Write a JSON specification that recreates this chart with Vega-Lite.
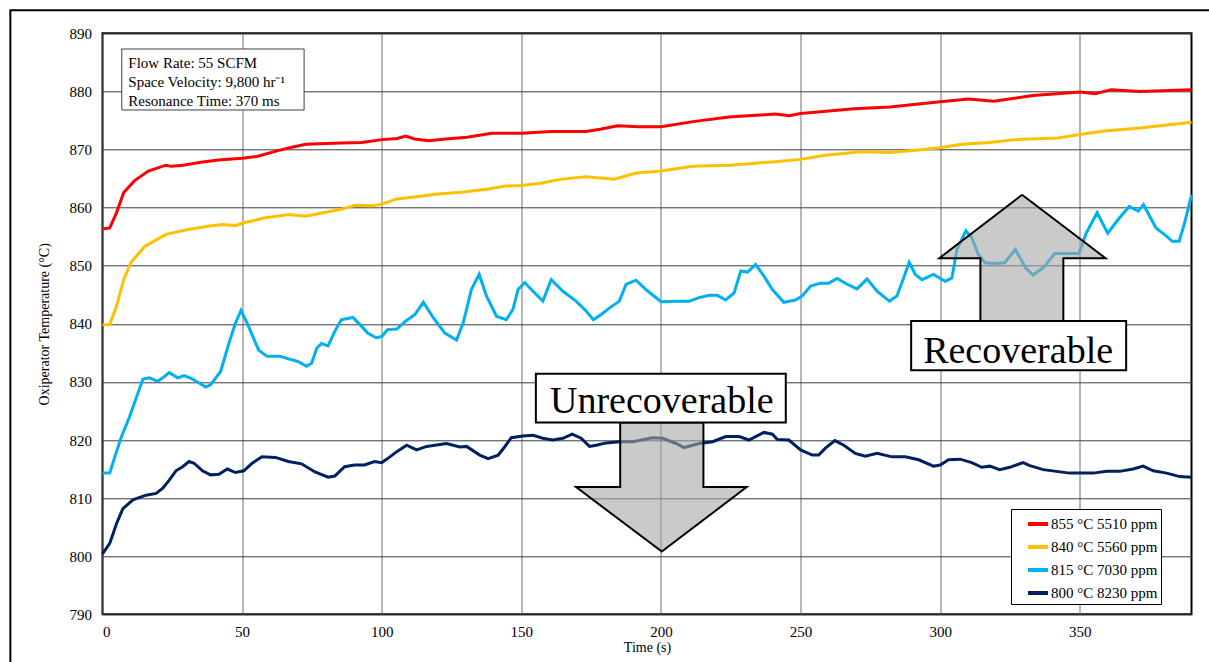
{
  "$schema": "https://vega.github.io/schema/vega-lite/v6.json",
  "width": 1089,
  "height": 581,
  "autosize": {"type": "none"},
  "padding": {"left": 102.5, "top": 33.3, "right": 17.5, "bottom": 47.7},
  "background": "white",
  "config": {
    "font": "Liberation Serif",
    "view": {"stroke": "black", "strokeWidth": 2},
    "axis": {"labelColor": "black", "titleColor": "black", "titleFontWeight": "normal", "ticks": false, "domain": false, "grid": true, "labelFont": "Liberation Serif", "titleFont": "Liberation Serif"}
  },
  "datasets": {
    "series": [
      {"s":"855 °C 5510 ppm","x":0,"y":856.3},{"s":"855 °C 5510 ppm","x":2.6,"y":856.5},{"s":"855 °C 5510 ppm","x":5,"y":859.1},{"s":"855 °C 5510 ppm","x":7.6,"y":862.6},{"s":"855 °C 5510 ppm","x":11.4,"y":864.6},{"s":"855 °C 5510 ppm","x":16.4,"y":866.3},{"s":"855 °C 5510 ppm","x":22.7,"y":867.3},{"s":"855 °C 5510 ppm","x":24.6,"y":867.1},{"s":"855 °C 5510 ppm","x":28.9,"y":867.3},{"s":"855 °C 5510 ppm","x":35.2,"y":867.8},{"s":"855 °C 5510 ppm","x":41.5,"y":868.2},{"s":"855 °C 5510 ppm","x":50,"y":868.5},{"s":"855 °C 5510 ppm","x":55.3,"y":868.8},{"s":"855 °C 5510 ppm","x":62.8,"y":869.8},{"s":"855 °C 5510 ppm","x":67.8,"y":870.4},{"s":"855 °C 5510 ppm","x":72.8,"y":870.9},{"s":"855 °C 5510 ppm","x":85.4,"y":871.1},{"s":"855 °C 5510 ppm","x":92.9,"y":871.2},{"s":"855 °C 5510 ppm","x":100,"y":871.7},{"s":"855 °C 5510 ppm","x":105.5,"y":871.9},{"s":"855 °C 5510 ppm","x":108.6,"y":872.3},{"s":"855 °C 5510 ppm","x":111.7,"y":871.8},{"s":"855 °C 5510 ppm","x":116.8,"y":871.5},{"s":"855 °C 5510 ppm","x":123,"y":871.8},{"s":"855 °C 5510 ppm","x":130.6,"y":872.1},{"s":"855 °C 5510 ppm","x":139.4,"y":872.8},{"s":"855 °C 5510 ppm","x":150,"y":872.8},{"s":"855 °C 5510 ppm","x":160.7,"y":873.1},{"s":"855 °C 5510 ppm","x":173.2,"y":873.1},{"s":"855 °C 5510 ppm","x":178.2,"y":873.5},{"s":"855 °C 5510 ppm","x":184.5,"y":874.1},{"s":"855 °C 5510 ppm","x":192,"y":873.9},{"s":"855 °C 5510 ppm","x":200,"y":873.9},{"s":"855 °C 5510 ppm","x":211.5,"y":874.8},{"s":"855 °C 5510 ppm","x":224.3,"y":875.6},{"s":"855 °C 5510 ppm","x":240.9,"y":876.1},{"s":"855 °C 5510 ppm","x":246,"y":875.8},{"s":"855 °C 5510 ppm","x":250,"y":876.2},{"s":"855 °C 5510 ppm","x":269.2,"y":877},{"s":"855 °C 5510 ppm","x":282,"y":877.3},{"s":"855 °C 5510 ppm","x":300,"y":878.2},{"s":"855 °C 5510 ppm","x":310.2,"y":878.7},{"s":"855 °C 5510 ppm","x":319.2,"y":878.3},{"s":"855 °C 5510 ppm","x":333.3,"y":879.3},{"s":"855 °C 5510 ppm","x":350,"y":879.9},{"s":"855 °C 5510 ppm","x":355.5,"y":879.6},{"s":"855 °C 5510 ppm","x":361.3,"y":880.3},{"s":"855 °C 5510 ppm","x":371.5,"y":880},{"s":"855 °C 5510 ppm","x":390,"y":880.3},
      {"s":"840 °C 5560 ppm","x":0,"y":839.8},{"s":"840 °C 5560 ppm","x":2.6,"y":839.9},{"s":"840 °C 5560 ppm","x":5,"y":843},{"s":"840 °C 5560 ppm","x":7.6,"y":847.6},{"s":"840 °C 5560 ppm","x":10.1,"y":850.5},{"s":"840 °C 5560 ppm","x":15.1,"y":853.3},{"s":"840 °C 5560 ppm","x":22.7,"y":855.4},{"s":"840 °C 5560 ppm","x":30.2,"y":856.2},{"s":"840 °C 5560 ppm","x":37.7,"y":856.8},{"s":"840 °C 5560 ppm","x":42.7,"y":857.1},{"s":"840 °C 5560 ppm","x":47.7,"y":856.9},{"s":"840 °C 5560 ppm","x":50,"y":857.3},{"s":"840 °C 5560 ppm","x":57.8,"y":858.2},{"s":"840 °C 5560 ppm","x":66.6,"y":858.8},{"s":"840 °C 5560 ppm","x":72.8,"y":858.5},{"s":"840 °C 5560 ppm","x":79.1,"y":859.1},{"s":"840 °C 5560 ppm","x":85.4,"y":859.7},{"s":"840 °C 5560 ppm","x":90.4,"y":860.4},{"s":"840 °C 5560 ppm","x":96.7,"y":860.3},{"s":"840 °C 5560 ppm","x":100,"y":860.6},{"s":"840 °C 5560 ppm","x":105.5,"y":861.5},{"s":"840 °C 5560 ppm","x":113,"y":861.9},{"s":"840 °C 5560 ppm","x":119.3,"y":862.3},{"s":"840 °C 5560 ppm","x":129.3,"y":862.7},{"s":"840 °C 5560 ppm","x":138.1,"y":863.2},{"s":"840 °C 5560 ppm","x":144.4,"y":863.7},{"s":"840 °C 5560 ppm","x":150,"y":863.8},{"s":"840 °C 5560 ppm","x":156.9,"y":864.2},{"s":"840 °C 5560 ppm","x":164.4,"y":864.9},{"s":"840 °C 5560 ppm","x":173.2,"y":865.3},{"s":"840 °C 5560 ppm","x":183.2,"y":864.9},{"s":"840 °C 5560 ppm","x":190.8,"y":865.9},{"s":"840 °C 5560 ppm","x":200,"y":866.3},{"s":"840 °C 5560 ppm","x":211.5,"y":867.1},{"s":"840 °C 5560 ppm","x":224.3,"y":867.3},{"s":"840 °C 5560 ppm","x":230.7,"y":867.5},{"s":"840 °C 5560 ppm","x":240.9,"y":867.9},{"s":"840 °C 5560 ppm","x":250,"y":868.3},{"s":"840 °C 5560 ppm","x":258.9,"y":869},{"s":"840 °C 5560 ppm","x":271.7,"y":869.6},{"s":"840 °C 5560 ppm","x":282,"y":869.5},{"s":"840 °C 5560 ppm","x":292,"y":869.9},{"s":"840 °C 5560 ppm","x":300,"y":870.3},{"s":"840 °C 5560 ppm","x":307.7,"y":870.9},{"s":"840 °C 5560 ppm","x":317.9,"y":871.2},{"s":"840 °C 5560 ppm","x":326.9,"y":871.7},{"s":"840 °C 5560 ppm","x":342.2,"y":872},{"s":"840 °C 5560 ppm","x":350,"y":872.6},{"s":"840 °C 5560 ppm","x":358.8,"y":873.2},{"s":"840 °C 5560 ppm","x":371.5,"y":873.7},{"s":"840 °C 5560 ppm","x":390,"y":874.7},
      {"s":"815 °C 7030 ppm","x":0,"y":814.3},{"s":"815 °C 7030 ppm","x":2.6,"y":814.3},{"s":"815 °C 7030 ppm","x":4.4,"y":817.1},{"s":"815 °C 7030 ppm","x":6.8,"y":820.6},{"s":"815 °C 7030 ppm","x":9.7,"y":824},{"s":"815 °C 7030 ppm","x":12.7,"y":828.1},{"s":"815 °C 7030 ppm","x":14.5,"y":830.5},{"s":"815 °C 7030 ppm","x":16.8,"y":830.7},{"s":"815 °C 7030 ppm","x":19.8,"y":830.1},{"s":"815 °C 7030 ppm","x":21.6,"y":830.7},{"s":"815 °C 7030 ppm","x":23.9,"y":831.6},{"s":"815 °C 7030 ppm","x":26.9,"y":830.7},{"s":"815 °C 7030 ppm","x":29.3,"y":831.1},{"s":"815 °C 7030 ppm","x":32.2,"y":830.5},{"s":"815 °C 7030 ppm","x":34.6,"y":829.8},{"s":"815 °C 7030 ppm","x":37,"y":829.1},{"s":"815 °C 7030 ppm","x":38.7,"y":829.5},{"s":"815 °C 7030 ppm","x":42.3,"y":831.8},{"s":"815 °C 7030 ppm","x":45.3,"y":836.7},{"s":"815 °C 7030 ppm","x":47.6,"y":840.1},{"s":"815 °C 7030 ppm","x":49.6,"y":842.3},{"s":"815 °C 7030 ppm","x":51.8,"y":840.1},{"s":"815 °C 7030 ppm","x":55.9,"y":835.5},{"s":"815 °C 7030 ppm","x":58.9,"y":834.4},{"s":"815 °C 7030 ppm","x":63.6,"y":834.4},{"s":"815 °C 7030 ppm","x":67.8,"y":833.8},{"s":"815 °C 7030 ppm","x":70.1,"y":833.5},{"s":"815 °C 7030 ppm","x":73.1,"y":832.7},{"s":"815 °C 7030 ppm","x":74.9,"y":833.2},{"s":"815 °C 7030 ppm","x":76.7,"y":835.8},{"s":"815 °C 7030 ppm","x":78.4,"y":836.6},{"s":"815 °C 7030 ppm","x":80.8,"y":836.2},{"s":"815 °C 7030 ppm","x":83.2,"y":838.7},{"s":"815 °C 7030 ppm","x":85.5,"y":840.7},{"s":"815 °C 7030 ppm","x":89.7,"y":841.1},{"s":"815 °C 7030 ppm","x":92.7,"y":839.6},{"s":"815 °C 7030 ppm","x":95,"y":838.4},{"s":"815 °C 7030 ppm","x":98,"y":837.6},{"s":"815 °C 7030 ppm","x":100,"y":837.8},{"s":"815 °C 7030 ppm","x":102.1,"y":839},{"s":"815 °C 7030 ppm","x":105.4,"y":839.1},{"s":"815 °C 7030 ppm","x":108.4,"y":840.4},{"s":"815 °C 7030 ppm","x":111.9,"y":841.6},{"s":"815 °C 7030 ppm","x":114.9,"y":843.7},{"s":"815 °C 7030 ppm","x":118.5,"y":841},{"s":"815 °C 7030 ppm","x":122.6,"y":838.4},{"s":"815 °C 7030 ppm","x":126.8,"y":837.2},{"s":"815 °C 7030 ppm","x":129.2,"y":840.2},{"s":"815 °C 7030 ppm","x":132.1,"y":845.9},{"s":"815 °C 7030 ppm","x":134.9,"y":848.5},{"s":"815 °C 7030 ppm","x":137.5,"y":844.8},{"s":"815 °C 7030 ppm","x":141.1,"y":841.3},{"s":"815 °C 7030 ppm","x":144.6,"y":840.7},{"s":"815 °C 7030 ppm","x":147,"y":842.5},{"s":"815 °C 7030 ppm","x":148.8,"y":845.9},{"s":"815 °C 7030 ppm","x":151.2,"y":847.1},{"s":"815 °C 7030 ppm","x":154.2,"y":845.6},{"s":"815 °C 7030 ppm","x":157.7,"y":843.9},{"s":"815 °C 7030 ppm","x":160.7,"y":847.6},{"s":"815 °C 7030 ppm","x":164.9,"y":845.6},{"s":"815 °C 7030 ppm","x":169.6,"y":843.9},{"s":"815 °C 7030 ppm","x":173.2,"y":842.2},{"s":"815 °C 7030 ppm","x":175.8,"y":840.7},{"s":"815 °C 7030 ppm","x":178.6,"y":841.6},{"s":"815 °C 7030 ppm","x":181.5,"y":842.7},{"s":"815 °C 7030 ppm","x":185.1,"y":843.9},{"s":"815 °C 7030 ppm","x":187.5,"y":846.8},{"s":"815 °C 7030 ppm","x":191.1,"y":847.5},{"s":"815 °C 7030 ppm","x":194.6,"y":845.9},{"s":"815 °C 7030 ppm","x":200,"y":843.8},{"s":"815 °C 7030 ppm","x":205.4,"y":843.9},{"s":"815 °C 7030 ppm","x":210.1,"y":843.9},{"s":"815 °C 7030 ppm","x":213.7,"y":844.5},{"s":"815 °C 7030 ppm","x":217.3,"y":844.9},{"s":"815 °C 7030 ppm","x":220.2,"y":844.9},{"s":"815 °C 7030 ppm","x":223.2,"y":844.1},{"s":"815 °C 7030 ppm","x":226.2,"y":845.3},{"s":"815 °C 7030 ppm","x":228.6,"y":849.1},{"s":"815 °C 7030 ppm","x":231,"y":848.9},{"s":"815 °C 7030 ppm","x":233.9,"y":850.2},{"s":"815 °C 7030 ppm","x":236.9,"y":848.2},{"s":"815 °C 7030 ppm","x":239.9,"y":845.9},{"s":"815 °C 7030 ppm","x":244,"y":843.7},{"s":"815 °C 7030 ppm","x":248.2,"y":844.1},{"s":"815 °C 7030 ppm","x":250.6,"y":844.8},{"s":"815 °C 7030 ppm","x":253.6,"y":846.5},{"s":"815 °C 7030 ppm","x":257.1,"y":847},{"s":"815 °C 7030 ppm","x":260.1,"y":847},{"s":"815 °C 7030 ppm","x":263.1,"y":847.8},{"s":"815 °C 7030 ppm","x":266.7,"y":846.8},{"s":"815 °C 7030 ppm","x":270.2,"y":846},{"s":"815 °C 7030 ppm","x":273.8,"y":847.7},{"s":"815 °C 7030 ppm","x":277.4,"y":845.6},{"s":"815 °C 7030 ppm","x":281.8,"y":843.9},{"s":"815 °C 7030 ppm","x":284.5,"y":844.8},{"s":"815 °C 7030 ppm","x":286.9,"y":847.9},{"s":"815 °C 7030 ppm","x":288.9,"y":850.6},{"s":"815 °C 7030 ppm","x":291.1,"y":848.5},{"s":"815 °C 7030 ppm","x":293.5,"y":847.6},{"s":"815 °C 7030 ppm","x":297.6,"y":848.5},{"s":"815 °C 7030 ppm","x":301.8,"y":847.3},{"s":"815 °C 7030 ppm","x":304.2,"y":847.9},{"s":"815 °C 7030 ppm","x":306,"y":852.8},{"s":"815 °C 7030 ppm","x":309.2,"y":856},{"s":"815 °C 7030 ppm","x":311.3,"y":854.8},{"s":"815 °C 7030 ppm","x":313.7,"y":851.9},{"s":"815 °C 7030 ppm","x":316.1,"y":850.5},{"s":"815 °C 7030 ppm","x":319.2,"y":850.4},{"s":"815 °C 7030 ppm","x":323.1,"y":850.5},{"s":"815 °C 7030 ppm","x":326.9,"y":852.8},{"s":"815 °C 7030 ppm","x":330.8,"y":849.5},{"s":"815 °C 7030 ppm","x":333.3,"y":848.4},{"s":"815 °C 7030 ppm","x":337.2,"y":849.8},{"s":"815 °C 7030 ppm","x":341,"y":852.1},{"s":"815 °C 7030 ppm","x":346.1,"y":852.1},{"s":"815 °C 7030 ppm","x":349.7,"y":852.1},{"s":"815 °C 7030 ppm","x":352.3,"y":855.6},{"s":"815 °C 7030 ppm","x":356.2,"y":859.1},{"s":"815 °C 7030 ppm","x":360,"y":855.6},{"s":"815 °C 7030 ppm","x":363.8,"y":858},{"s":"815 °C 7030 ppm","x":367.7,"y":860.2},{"s":"815 °C 7030 ppm","x":370.9,"y":859.4},{"s":"815 °C 7030 ppm","x":372.8,"y":860.5},{"s":"815 °C 7030 ppm","x":377.3,"y":856.5},{"s":"815 °C 7030 ppm","x":380.5,"y":855.3},{"s":"815 °C 7030 ppm","x":383.1,"y":854.2},{"s":"815 °C 7030 ppm","x":385.6,"y":854.2},{"s":"815 °C 7030 ppm","x":387.5,"y":857.3},{"s":"815 °C 7030 ppm","x":390,"y":862.2},
      {"s":"800 °C 8230 ppm","x":0,"y":800.4},{"s":"800 °C 8230 ppm","x":2.6,"y":802.2},{"s":"800 °C 8230 ppm","x":5,"y":805.6},{"s":"800 °C 8230 ppm","x":7.3,"y":808.2},{"s":"800 °C 8230 ppm","x":10.9,"y":809.7},{"s":"800 °C 8230 ppm","x":15.6,"y":810.5},{"s":"800 °C 8230 ppm","x":19.2,"y":810.8},{"s":"800 °C 8230 ppm","x":21.6,"y":811.7},{"s":"800 °C 8230 ppm","x":23.9,"y":813.1},{"s":"800 °C 8230 ppm","x":26.3,"y":814.7},{"s":"800 °C 8230 ppm","x":28.7,"y":815.4},{"s":"800 °C 8230 ppm","x":31,"y":816.3},{"s":"800 °C 8230 ppm","x":32.8,"y":816},{"s":"800 °C 8230 ppm","x":35.8,"y":814.7},{"s":"800 °C 8230 ppm","x":38.7,"y":814},{"s":"800 °C 8230 ppm","x":41.7,"y":814.1},{"s":"800 °C 8230 ppm","x":44.7,"y":815},{"s":"800 °C 8230 ppm","x":47.6,"y":814.4},{"s":"800 °C 8230 ppm","x":50.6,"y":814.7},{"s":"800 °C 8230 ppm","x":53.6,"y":816},{"s":"800 °C 8230 ppm","x":57.1,"y":817.1},{"s":"800 °C 8230 ppm","x":61.9,"y":817},{"s":"800 °C 8230 ppm","x":66.6,"y":816.3},{"s":"800 °C 8230 ppm","x":71.3,"y":815.9},{"s":"800 °C 8230 ppm","x":76.1,"y":814.5},{"s":"800 °C 8230 ppm","x":80.8,"y":813.6},{"s":"800 °C 8230 ppm","x":83.2,"y":813.8},{"s":"800 °C 8230 ppm","x":86.7,"y":815.4},{"s":"800 °C 8230 ppm","x":90.3,"y":815.7},{"s":"800 °C 8230 ppm","x":93.8,"y":815.7},{"s":"800 °C 8230 ppm","x":97.4,"y":816.3},{"s":"800 °C 8230 ppm","x":100,"y":816.1},{"s":"800 °C 8230 ppm","x":102.1,"y":816.8},{"s":"800 °C 8230 ppm","x":105.4,"y":818},{"s":"800 °C 8230 ppm","x":108.9,"y":819.1},{"s":"800 °C 8230 ppm","x":112.5,"y":818.3},{"s":"800 °C 8230 ppm","x":116.1,"y":818.9},{"s":"800 °C 8230 ppm","x":123.2,"y":819.4},{"s":"800 °C 8230 ppm","x":128,"y":818.8},{"s":"800 °C 8230 ppm","x":130.4,"y":818.9},{"s":"800 °C 8230 ppm","x":135.1,"y":817.4},{"s":"800 °C 8230 ppm","x":138.1,"y":816.8},{"s":"800 °C 8230 ppm","x":141.7,"y":817.4},{"s":"800 °C 8230 ppm","x":144,"y":818.8},{"s":"800 °C 8230 ppm","x":146.4,"y":820.4},{"s":"800 °C 8230 ppm","x":150.6,"y":820.7},{"s":"800 °C 8230 ppm","x":154.2,"y":820.8},{"s":"800 °C 8230 ppm","x":157.7,"y":820.3},{"s":"800 °C 8230 ppm","x":161.3,"y":820},{"s":"800 °C 8230 ppm","x":164.9,"y":820.3},{"s":"800 °C 8230 ppm","x":168.2,"y":821},{"s":"800 °C 8230 ppm","x":171.4,"y":820.3},{"s":"800 °C 8230 ppm","x":174.4,"y":818.9},{"s":"800 °C 8230 ppm","x":176.8,"y":819.1},{"s":"800 °C 8230 ppm","x":180.4,"y":819.5},{"s":"800 °C 8230 ppm","x":185.1,"y":819.7},{"s":"800 °C 8230 ppm","x":189.9,"y":819.7},{"s":"800 °C 8230 ppm","x":197,"y":820.4},{"s":"800 °C 8230 ppm","x":200.6,"y":820.3},{"s":"800 °C 8230 ppm","x":205.4,"y":819.4},{"s":"800 °C 8230 ppm","x":208.3,"y":818.7},{"s":"800 °C 8230 ppm","x":213.7,"y":819.4},{"s":"800 °C 8230 ppm","x":218.5,"y":819.7},{"s":"800 °C 8230 ppm","x":223.2,"y":820.6},{"s":"800 °C 8230 ppm","x":228,"y":820.6},{"s":"800 °C 8230 ppm","x":231.5,"y":820},{"s":"800 °C 8230 ppm","x":236.9,"y":821.3},{"s":"800 °C 8230 ppm","x":239.9,"y":821},{"s":"800 °C 8230 ppm","x":241.7,"y":820.1},{"s":"800 °C 8230 ppm","x":245.8,"y":820},{"s":"800 °C 8230 ppm","x":250,"y":818.3},{"s":"800 °C 8230 ppm","x":254.2,"y":817.4},{"s":"800 °C 8230 ppm","x":256.5,"y":817.4},{"s":"800 °C 8230 ppm","x":258.9,"y":818.6},{"s":"800 °C 8230 ppm","x":262.3,"y":819.9},{"s":"800 °C 8230 ppm","x":265.5,"y":819.1},{"s":"800 °C 8230 ppm","x":269.6,"y":817.7},{"s":"800 °C 8230 ppm","x":273.2,"y":817.2},{"s":"800 °C 8230 ppm","x":277.4,"y":817.7},{"s":"800 °C 8230 ppm","x":282.7,"y":817.1},{"s":"800 °C 8230 ppm","x":287.5,"y":817.1},{"s":"800 °C 8230 ppm","x":292.3,"y":816.6},{"s":"800 °C 8230 ppm","x":297.6,"y":815.5},{"s":"800 °C 8230 ppm","x":300,"y":815.7},{"s":"800 °C 8230 ppm","x":303,"y":816.6},{"s":"800 °C 8230 ppm","x":307.1,"y":816.7},{"s":"800 °C 8230 ppm","x":311.3,"y":816.1},{"s":"800 °C 8230 ppm","x":314.9,"y":815.3},{"s":"800 °C 8230 ppm","x":317.8,"y":815.5},{"s":"800 °C 8230 ppm","x":321.3,"y":814.9},{"s":"800 °C 8230 ppm","x":324.9,"y":815.3},{"s":"800 °C 8230 ppm","x":329.7,"y":816.1},{"s":"800 °C 8230 ppm","x":332.1,"y":815.6},{"s":"800 °C 8230 ppm","x":336.9,"y":814.9},{"s":"800 °C 8230 ppm","x":341.6,"y":814.6},{"s":"800 °C 8230 ppm","x":346.4,"y":814.3},{"s":"800 °C 8230 ppm","x":350,"y":814.3},{"s":"800 °C 8230 ppm","x":354.8,"y":814.3},{"s":"800 °C 8230 ppm","x":359.6,"y":814.6},{"s":"800 °C 8230 ppm","x":364.3,"y":814.6},{"s":"800 °C 8230 ppm","x":369.1,"y":815},{"s":"800 °C 8230 ppm","x":372.7,"y":815.5},{"s":"800 °C 8230 ppm","x":376.3,"y":814.7},{"s":"800 °C 8230 ppm","x":381.1,"y":814.3},{"s":"800 °C 8230 ppm","x":385.8,"y":813.7},{"s":"800 °C 8230 ppm","x":390,"y":813.6}
    ],
    "arrows": [
      {"a":"down","i":1,"x":185.4,"y":823.0},{"a":"down","i":2,"x":185.4,"y":811.9},{"a":"down","i":3,"x":169.6,"y":811.9},{"a":"down","i":4,"x":200.3,"y":800.8},{"a":"down","i":5,"x":230.7,"y":811.9},{"a":"down","i":6,"x":215.2,"y":811.9},{"a":"down","i":7,"x":215.2,"y":823.0},{"a":"down","i":8,"x":185.4,"y":823.0},
      {"a":"up","i":1,"x":329.3,"y":862.2},{"a":"up","i":2,"x":359.2,"y":851.3},{"a":"up","i":3,"x":344.1,"y":851.3},{"a":"up","i":4,"x":344.1,"y":840.5},{"a":"up","i":5,"x":314.4,"y":840.5},{"a":"up","i":6,"x":314.4,"y":851.3},{"a":"up","i":7,"x":299.7,"y":851.3},{"a":"up","i":8,"x":329.3,"y":862.2}
    ],
    "frame": [{"x":-33,"x2":470,"y":893.96,"y2":760}],
    "infobox": [{"x":6.9,"x2":72.2,"y":887.3,"y2":876.8}],
    "infotext": [
      {"x":9.24,"y":884.08,"label":"Flow Rate: 55 SCFM"},
      {"x":9.24,"y":880.81,"label":"Space Velocity: 9,800 hr⁻¹"},
      {"x":9.24,"y":877.54,"label":"Resonance Time: 370 ms"}
    ],
    "bigbox": [
      {"x":155.2,"x2":244.7,"y":831.4,"y2":823.0},
      {"x":289.6,"x2":366.6,"y":840.5,"y2":832.0}
    ],
    "bigtext": [
      {"x":200.3,"y":824.6,"label":"Unrecoverable"},
      {"x":327.9,"y":833.3,"label":"Recoverable"}
    ]
  },
  "encoding": {
    "x": {
      "field": "x", "type": "quantitative",
      "scale": {"domain": [0, 390], "nice": false, "zero": false},
      "axis": {"values": [0, 50, 100, 150, 200, 250, 300, 350], "title": "Time (s)", "gridColor": "#6e6e6e", "gridWidth": 1, "labelFontSize": 15, "labelPadding": 10, "titleFontSize": 14, "titlePadding": 1}
    },
    "y": {
      "field": "y", "type": "quantitative",
      "scale": {"domain": [790, 890], "nice": false, "zero": false},
      "axis": {"values": [790, 800, 810, 820, 830, 840, 850, 860, 870, 880, 890], "title": "Oxiperator Temperature (°C)", "gridColor": "#3c3c3c", "gridWidth": 1, "labelFontSize": 15, "labelPadding": 11, "titleFontSize": 14, "titlePadding": 18}
    }
  },
  "layer": [
    {
      "data": {"name": "frame"},
      "mark": {"type": "rect", "fill": null, "stroke": "black", "strokeWidth": 2, "clip": false},
      "encoding": {"x2": {"field": "x2"}, "y2": {"field": "y2"}}
    },
    {
      "data": {"name": "infobox"},
      "mark": {"type": "rect", "fill": "white", "stroke": "#404040", "strokeWidth": 1},
      "encoding": {"x2": {"field": "x2"}, "y2": {"field": "y2"}}
    },
    {
      "data": {"name": "infotext"},
      "mark": {"type": "text", "align": "left", "baseline": "alphabetic", "fontSize": 15, "font": "Liberation Serif", "color": "black"},
      "encoding": {"text": {"field": "label"}}
    },
    {
      "data": {"name": "series"},
      "mark": {"type": "line", "strokeWidth": 3},
      "encoding": {
        "color": {
          "field": "s", "type": "nominal",
          "scale": {"domain": ["855 °C 5510 ppm", "840 °C 5560 ppm", "815 °C 7030 ppm", "800 °C 8230 ppm"], "range": ["#ff0000", "#ffc000", "#00b0f0", "#002060"]},
          "legend": {
            "title": null, "orient": "none", "legendX": 908.5, "legendY": 475.7,
            "strokeColor": "black", "fillColor": "white", "padding": 3,
            "symbolType": "stroke", "symbolSize": 400, "symbolStrokeWidth": 4, "symbolOffset": 12,
            "rowPadding": 3, "labelFontSize": 15, "labelOffset": 1, "labelFont": "Liberation Serif", "labelColor": "black",
            "labelExpr": "datum.label + '    '"
          }
        }
      }
    },
    {
      "data": {"name": "arrows"},
      "mark": {"type": "line", "filled": true, "fill": "#a6a6a6", "fillOpacity": 0.6, "stroke": "black", "strokeWidth": 2, "strokeJoin": "miter"},
      "encoding": {"order": {"field": "i", "type": "quantitative"}, "detail": {"field": "a"}}
    },
    {
      "data": {"name": "bigbox"},
      "mark": {"type": "rect", "fill": "white", "stroke": "black", "strokeWidth": 2},
      "encoding": {"x2": {"field": "x2"}, "y2": {"field": "y2"}}
    },
    {
      "data": {"name": "bigtext"},
      "mark": {"type": "text", "align": "center", "baseline": "alphabetic", "fontSize": 38, "font": "Liberation Serif", "color": "black"},
      "encoding": {"text": {"field": "label"}}
    }
  ]
}
